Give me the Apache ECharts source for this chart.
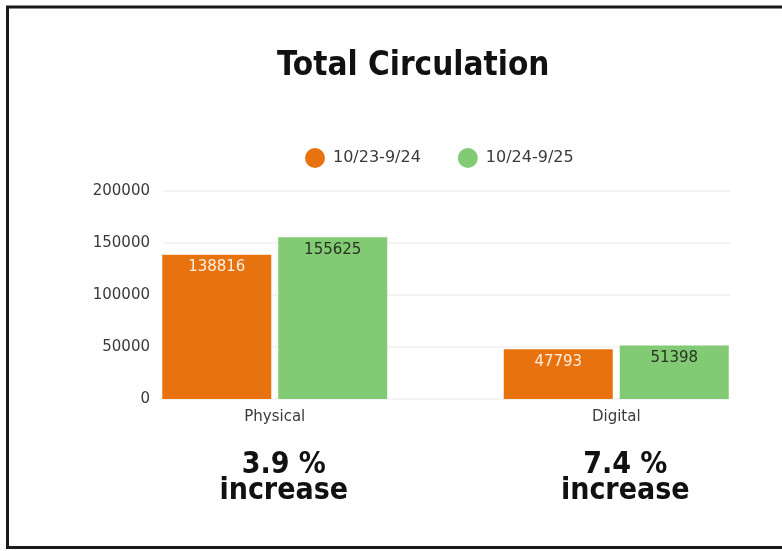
<!DOCTYPE html>
<html>
<head>
<meta charset="utf-8">
<script src="https://cdn.jsdelivr.net/npm/echarts@6/dist/echarts.min.js"></script>
<style>
  html, body { margin: 0; padding: 0; background: #fff; }
  #chart { width: 782px; height: 551px; }
</style>
</head>
<body>
<div id="chart"></div>
<script>
// data
const categories = ['Physical', 'Digital'];
const seriesNames = ['10/23-9/24', '10/24-9/25'];
const prevYear = [138816, 47793];
const thisYear = [155625, 51398];
const changeLabels = ['3.9 %', '7.4 %'];
const yTicks = [0, 50000, 100000, 150000, 200000];

const ORANGE = '#E8730E';
const GREEN = '#82CA73';
const FONT = '"DejaVu Sans", sans-serif';
const BIG = '"DejaVu Sans Condensed", "DejaVu Sans", sans-serif';

let chart = echarts.init(document.getElementById('chart'));

chart.setOption({
    animation: false,
    backgroundColor: '#fff',
    title: {
        text: 'Total Circulation',
        left: 272,
        top: 45,
        textStyle: { fontFamily: BIG, fontWeight: 'bold', fontSize: 33, color: '#111' }
    },
    legend: {
        data: seriesNames,
        left: 300,
        top: 143,
        icon: 'circle',
        itemWidth: 20,
        itemHeight: 20,
        itemGap: 37,
        textStyle: { fontFamily: FONT, fontSize: 16, color: '#3a3a3a', padding: [0, 0, 0, 3] }
    },
    grid: [
        // grid 0: y axis + gridlines
        { left: 163, width: 567, top: 191, height: 208, outerBoundsMode: 'none' },
        // grid 1: the bars (wider band so the groups sit like the original)
        { left: 104, width: 683, top: 191, height: 208, outerBoundsMode: 'none' }
    ],
    xAxis: [
        {
            type: 'category', gridIndex: 0, data: categories,
            show: false
        },
        {
            type: 'category', gridIndex: 1, data: categories,
            axisLine: { show: false },
            axisTick: { show: false },
            axisLabel: {
                margin: 8,
                formatter: function (v, i) {
                    return '{cat|' + v + '}\n{sp| }\n{pct|' + changeLabels[i] + '}\n{inc|increase}';
                },
                rich: {
                    cat: { fontFamily: FONT, fontSize: 15, color: '#3a3a3a', lineHeight: 20 },
                    sp: { fontSize: 2, lineHeight: 25 },
                    pct: { fontFamily: BIG, fontWeight: 'bold', fontSize: 30, color: '#111', lineHeight: 26, padding: [0, 0, 0, 18] },
                    inc: { fontFamily: BIG, fontWeight: 'bold', fontSize: 30, color: '#111', lineHeight: 26, padding: [0, 0, 0, 18] }
                }
            }
        }
    ],
    yAxis: [
        {
            type: 'value', gridIndex: 0,
            min: yTicks[0], max: yTicks[yTicks.length - 1], interval: yTicks[1] - yTicks[0],
            axisLine: { show: false },
            axisTick: { show: false },
            axisLabel: {
                margin: 13, fontFamily: FONT, fontSize: 15, color: '#3a3a3a',
                formatter: function (v) { return String(v); }
            },
            splitLine: { lineStyle: { color: '#f4f4f4', width: 2 } }
        },
        {
            type: 'value', gridIndex: 1,
            min: yTicks[0], max: yTicks[yTicks.length - 1], interval: yTicks[1] - yTicks[0],
            show: false,
            splitLine: { show: false }
        }
    ],
    series: [
        {
            name: seriesNames[0],
            type: 'bar',
            xAxisIndex: 1, yAxisIndex: 1,
            data: prevYear,
            barWidth: 109,
            barGap: '6.4%',
            itemStyle: { color: ORANGE },
            label: {
                show: true, position: 'insideTop', distance: 5,
                fontFamily: FONT, fontSize: 15, color: '#fbeee2'
            }
        },
        {
            name: seriesNames[1],
            type: 'bar',
            xAxisIndex: 1, yAxisIndex: 1,
            data: thisYear,
            barWidth: 109,
            barGap: '6.4%',
            itemStyle: { color: GREEN },
            label: {
                show: true, position: 'insideTop', distance: 5,
                fontFamily: FONT, fontSize: 15, color: '#263322'
            }
        }
    ],
    graphic: [
        {
            type: 'rect',
            shape: { x: 7.5, y: 7, width: 800, height: 540.5 },
            style: { fill: null, stroke: '#1a1a1a', lineWidth: 3 },
            silent: true
        }
    ]
});
</script>
</body>
</html>
